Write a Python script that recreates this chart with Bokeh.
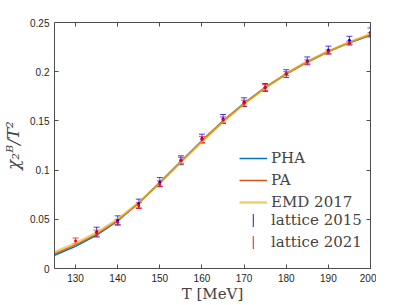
from bokeh.plotting import figure
from bokeh.models import (Whisker, TeeHead, ColumnDataSource, Legend, LegendItem,
                          LinearAxis, FixedTicker, NumeralTickFormatter, Range1d)
from bokeh.embed import file_html
from bokeh.resources import INLINE

# ---- data ----
T_curve = [125, 130, 135, 140, 145, 150, 155, 160, 165, 170, 175, 180, 185, 190, 195, 200]
pha = [0.0135, 0.0225, 0.034, 0.0485, 0.0665, 0.0875, 0.109, 0.130, 0.150, 0.168, 0.184, 0.198, 0.210, 0.2205, 0.2295, 0.237]
pa = [0.015, 0.024, 0.035, 0.049, 0.0665, 0.087, 0.1085, 0.1295, 0.1495, 0.1675, 0.1835, 0.1975, 0.2095, 0.2205, 0.2295, 0.2375]
emd = [0.0165, 0.0255, 0.0365, 0.050, 0.067, 0.087, 0.108, 0.129, 0.149, 0.1675, 0.1835, 0.198, 0.2105, 0.221, 0.230, 0.2385]

T_2015 = [135, 140, 145, 150, 155, 160, 165, 170, 175, 180, 185, 190, 195, 200]
chi_2015 = [0.037, 0.049, 0.066, 0.088, 0.110, 0.132, 0.152, 0.169, 0.184, 0.198, 0.211, 0.222, 0.232, 0.240]
err_2015 = [0.005, 0.0045, 0.0045, 0.0045, 0.0045, 0.0045, 0.0045, 0.0045, 0.004, 0.004, 0.004, 0.004, 0.004, 0.0045]

T_2021 = [130, 135, 140, 145, 150, 155, 160, 165, 170, 175, 180, 185, 190, 195, 200]
chi_2021 = [0.028, 0.036, 0.047, 0.064, 0.086, 0.110, 0.131, 0.151, 0.168, 0.184, 0.198, 0.210, 0.220, 0.229, 0.2375]
err_2021 = [0.003, 0.003, 0.003, 0.003, 0.003, 0.003, 0.003, 0.003, 0.003, 0.003, 0.002, 0.002, 0.002, 0.002, 0.002]

x_ticks = [130, 140, 150, 160, 170, 180, 190, 200]
y_ticks = [0, 0.05, 0.1, 0.15, 0.2, 0.25]

TICK_FONT = "Liberation Sans"
SERIF = "DejaVu Serif"

p = figure(frame_width=316, frame_height=246, output_backend="svg", toolbar_location=None,
           x_range=Range1d(125, 200), y_range=Range1d(0, 0.25),
           min_border_left=53, min_border_top=22, min_border_right=6, min_border_bottom=10)
p.outline_line_color = None
p.background_fill_color = "white"
p.border_fill_color = "white"
p.grid.visible = False

def style_axis(ax, ticks, labels=True):
    ax.ticker = FixedTicker(ticks=ticks)
    ax.major_tick_in = 4
    ax.major_tick_out = 0
    ax.minor_tick_line_color = None
    ax.axis_line_color = "#4d4d4d"
    ax.major_tick_line_color = "#4d4d4d"
    ax.major_label_text_font = TICK_FONT
    ax.major_label_text_font_size = "10px"
    ax.major_label_text_color = "#262626"
    if not labels:
        ax.major_label_overrides = {t: "" for t in ticks}
        ax.major_label_standoff = 0

style_axis(p.xaxis[0], x_ticks)
style_axis(p.yaxis[0], y_ticks)
p.yaxis[0].formatter = NumeralTickFormatter(format="0.[00]")
p.xaxis[0].major_label_standoff = 5
p.yaxis[0].major_label_standoff = 5

p.xaxis[0].axis_label = "T [MeV]"
p.xaxis[0].axis_label_text_font = SERIF
p.xaxis[0].axis_label_text_font_style = "normal"
p.xaxis[0].axis_label_text_font_size = "15px"
p.xaxis[0].axis_label_standoff = 0
p.yaxis[0].axis_label = "χ₂ᴮ/T²"
p.yaxis[0].axis_label_text_font = SERIF
p.yaxis[0].axis_label_text_font_style = "italic"
p.yaxis[0].axis_label_text_font_size = "17px"
p.yaxis[0].axis_label_standoff = 4

top = LinearAxis(axis_label=None)
style_axis(top, x_ticks, labels=False)
right = LinearAxis(axis_label=None)
style_axis(right, y_ticks, labels=False)
p.add_layout(top, "above")
p.add_layout(right, "right")

src = ColumnDataSource(dict(T=T_curve, pha=pha, pa=pa, emd=emd))
r_pha = p.line("T", "pha", source=src, line_color="#0072BD", line_width=1.5)
r_pa = p.line("T", "pa", source=src, line_color="#D95319", line_width=1.5)
r_emd = p.line("T", "emd", source=src, line_color="#EDB120", line_width=2.5, line_alpha=0.65)

def errors(T, v, e, color):
    s = ColumnDataSource(dict(T=T, v=v, lo=[a - b for a, b in zip(v, e)], hi=[a + b for a, b in zip(v, e)]))
    w = Whisker(base="T", upper="hi", lower="lo", source=s, line_color=color, line_width=1, line_alpha=0.75,
                upper_head=TeeHead(size=6, line_color=color, line_alpha=0.75),
                lower_head=TeeHead(size=6, line_color=color, line_alpha=0.75))
    p.add_layout(w)
    p.scatter("T", "v", source=s, marker="circle", size=3, fill_color=color, line_color=None)

errors(T_2015, chi_2015, err_2015, "#0000FF")
errors(T_2021, chi_2021, err_2021, "#FF0000")

# legend proxies (NaN data, never drawn in the plot area)
nan = [float("nan")]
lb1 = p.vbar(x=nan, top=nan, width=1, fill_color="#0000FF", fill_alpha=0.7, line_color=None)
ld1 = p.scatter(nan, nan, marker="circle", size=3, fill_color="#0000FF", line_color=None)
lb2 = p.vbar(x=nan, top=nan, width=1, fill_color="#FF0000", fill_alpha=0.7, line_color=None)
ld2 = p.scatter(nan, nan, marker="circle", size=3, fill_color="#FF0000", line_color=None)

def style_legend(lg):
    lg.border_line_color = None
    lg.background_fill_alpha = 0
    lg.label_text_font = SERIF
    lg.label_text_font_size = "15px"
    lg.label_height = 16
    lg.glyph_height = 16
    lg.spacing = 4
    lg.padding = 0
    lg.margin = 0

legend_lines = Legend(items=[
    LegendItem(label="PHA", renderers=[r_pha]),
    LegendItem(label="PA", renderers=[r_pa]),
    LegendItem(label="EMD 2017", renderers=[r_emd]),
], location=(185, 57))
style_legend(legend_lines)
legend_lines.glyph_width = 28
legend_lines.label_standoff = 4

legend_pts = Legend(items=[
    LegendItem(label="lattice 2015", renderers=[lb1, ld1]),
    LegendItem(label="lattice 2021", renderers=[lb2, ld2]),
], location=(198, 17))
style_legend(legend_pts)
legend_pts.glyph_width = 2
legend_pts.label_standoff = 17

p.add_layout(legend_lines)
p.add_layout(legend_pts)

open("out.html", "w").write(file_html(p, INLINE))
